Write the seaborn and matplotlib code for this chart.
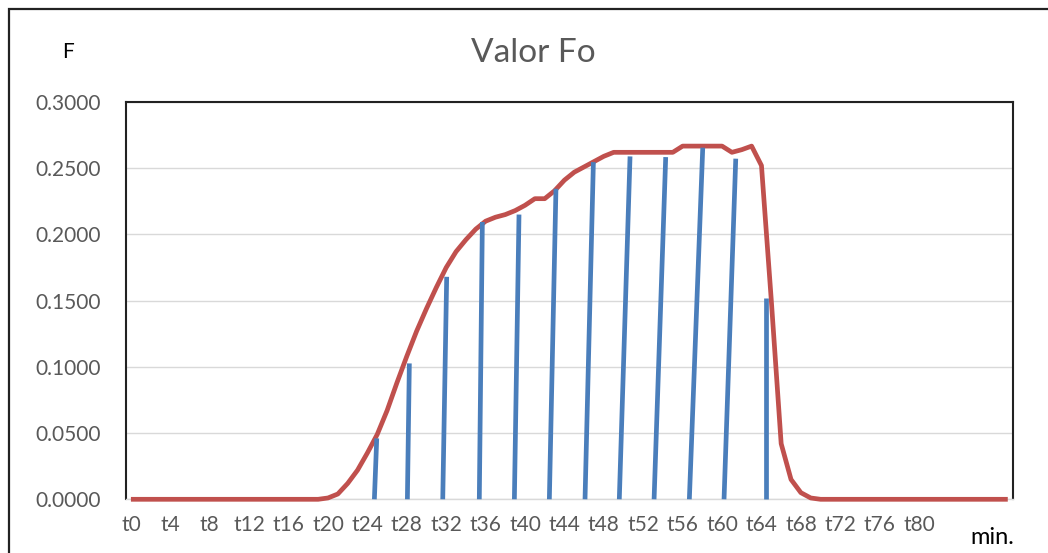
import matplotlib
matplotlib.use("Agg")
import matplotlib.pyplot as plt
from matplotlib.patches import Rectangle
import seaborn as sns
import pandas as pd

# ---- data ----
minutes = list(range(0, 90))
fo_curve = [
    0.0, 0.0, 0.0, 0.0, 0.0, 0.0, 0.0, 0.0, 0.0, 0.0,
    0.0, 0.0, 0.0, 0.0, 0.0, 0.0, 0.0, 0.0, 0.0, 0.0,
    0.001, 0.004, 0.012, 0.022, 0.035, 0.049, 0.067, 0.088, 0.108, 0.127,
    0.144, 0.160, 0.175, 0.187, 0.196, 0.204, 0.210, 0.213, 0.215, 0.218,
    0.222, 0.227, 0.227, 0.233, 0.241, 0.247, 0.251, 0.255, 0.259, 0.262,
    0.262, 0.262, 0.262, 0.262, 0.262, 0.262, 0.2667, 0.2667, 0.2667, 0.2667,
    0.2667, 0.262, 0.264, 0.2667, 0.252, 0.150, 0.042, 0.015, 0.005, 0.001,
    0.0, 0.0, 0.0, 0.0, 0.0, 0.0, 0.0, 0.0, 0.0, 0.0,
    0.0, 0.0, 0.0, 0.0, 0.0, 0.0, 0.0, 0.0, 0.0, 0.0,
]
bar_x_bottom = [24.71, 28.06, 31.65, 35.36, 38.92, 42.47, 46.09, 49.57, 53.10, 56.68, 60.20, 64.43]
bar_x_top = [24.95, 28.26, 32.05, 35.67, 39.39, 43.14, 46.94, 50.66, 54.28, 58.04, 61.39, 64.43]
bar_values = [0.046, 0.1026, 0.168, 0.2094, 0.215, 0.2345, 0.2546, 0.2589, 0.2584, 0.2655, 0.2572, 0.152]
tick_minutes = list(range(0, 81, 4))
tick_labels = [f"t{m}" for m in tick_minutes]
y_ticks = [0.0, 0.05, 0.10, 0.15, 0.20, 0.25, 0.30]

title = "Valor Fo"
y_label = "F"
x_label = "min."

# ---- style ----
sns.set_style("white")
plt.rcParams["font.family"] = ["Lato", "DejaVu Sans"]

W, H, DPI = 1048, 553, 100
fig = plt.figure(figsize=(W / DPI, H / DPI), dpi=DPI)
ax = fig.add_axes([126 / W, 1 - 499.3 / H, (1012.7 - 126) / W, (499.3 - 102) / H])

red = "#C0504D"
blue = "#4A7EBB"
grey_text = "#595959"

curve_df = pd.DataFrame({"minute": minutes, "F": fo_curve})
sns.lineplot(data=curve_df, x="minute", y="F", ax=ax, color=red, linewidth=3.4,
             estimator=None, sort=False, zorder=3, clip_on=False)

rows = []
for i, (xb, xt, v) in enumerate(zip(bar_x_bottom, bar_x_top, bar_values)):
    rows.append({"bar": i, "x": xb, "y": 0.0})
    rows.append({"bar": i, "x": xt, "y": v})
bars_df = pd.DataFrame(rows)
sns.lineplot(data=bars_df, x="x", y="y", units="bar", estimator=None, sort=False,
             ax=ax, color=blue, linewidth=3.4, zorder=4, clip_on=False)
for ln in ax.lines:
    ln.set_solid_capstyle("butt")
    ln.set_solid_joinstyle("round")

ax.set_xlim(-0.5, 89.5)
ax.set_ylim(0, 0.3)
ax.set_yticks(y_ticks)
ax.set_yticklabels([f"{v:.4f}" for v in y_ticks])
ax.set_xticks(tick_minutes)
ax.set_xticklabels(tick_labels)
ax.set_xlabel("")
ax.set_ylabel("")
ax.tick_params(axis="y", length=0, pad=18, labelsize=15, labelcolor=grey_text)
ax.tick_params(axis="x", length=0, pad=11, labelsize=15, labelcolor=grey_text)

ax.yaxis.grid(True, color="#D9D9D9", linewidth=1.0)
ax.xaxis.grid(False)
ax.set_axisbelow(True)

for side in ["left", "top", "right"]:
    ax.spines[side].set_visible(True)
    ax.spines[side].set_color("#222222")
    ax.spines[side].set_linewidth(1.5)
ax.spines["bottom"].set_color("#D9D9D9")
ax.spines["bottom"].set_linewidth(1.0)

fig.text(533 / W, 1 - 53 / H, title, ha="center", va="center", fontsize=24, color=grey_text)
fig.text(68 / W, 1 - 52 / H, y_label, ha="center", va="center", fontsize=15, color="black")
fig.text(992 / W, 1 - 537 / H, x_label, ha="center", va="center", fontsize=17, color="black")

frame = Rectangle((9 / W, -0.2), 1.5, 1 - 9 / H + 0.2, transform=fig.transFigure,
                  fill=False, edgecolor="#222222", linewidth=1.6, clip_on=False)
fig.patches.append(frame)

fig.savefig("out.png", dpi=DPI)
